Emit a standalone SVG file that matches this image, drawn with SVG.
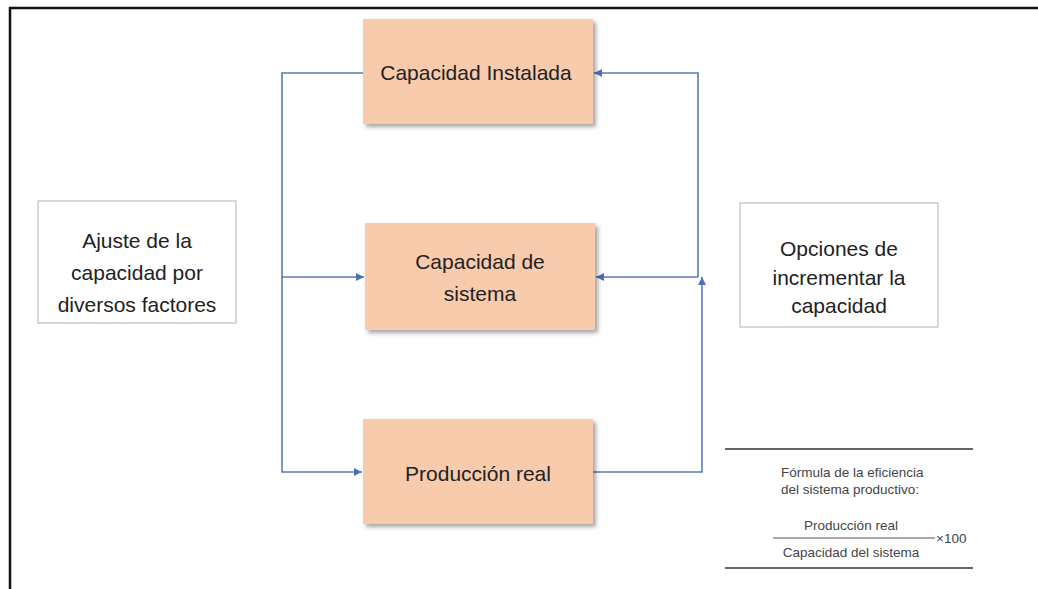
<svg xmlns="http://www.w3.org/2000/svg" width="1038" height="589" viewBox="0 0 1038 589">
<style>
.node{fill:#F8CBAD;filter:url(#sh)}
.lbl{font-family:"Liberation Sans","Open Sans",sans-serif;font-size:21px;fill:#222;text-anchor:middle}
.side{fill:#fff;stroke:#bfbfbf;stroke-width:1.2}
.conn{fill:none;stroke:#5b7bb5;stroke-width:1.6}
.f{font-family:"Liberation Sans",Arial,sans-serif;font-size:13.5px;fill:#444}
</style>
<defs>
<filter id="sh" x="-10%" y="-10%" width="130%" height="130%">
<feDropShadow dx="3" dy="3" stdDeviation="2" flood-color="#000" flood-opacity="0.35"/>
</filter>
<marker id="ar" viewBox="0 0 10 10" refX="10" refY="5" markerWidth="8" markerHeight="8" orient="auto" markerUnits="userSpaceOnUse">
<path d="M0,0 L10,5 L0,10 z" fill="#4a70b8"/>
</marker>
</defs>
<rect width="1038" height="589" fill="#fff"/>
<path d="M10,589 V8 H1038" fill="none" stroke="#111" stroke-width="2.5"/>

<g id="connectors">
<path class="conn" d="M363,73 H282 V472 H362" marker-end="url(#ar)"/>
<path class="conn" d="M282,277 H364" marker-end="url(#ar)"/>
<path class="conn" d="M593,472 H702 V277" marker-end="url(#ar)"/>
<path class="conn" d="M698,277 V73 H594" marker-end="url(#ar)"/>
<path class="conn" d="M698,277 H596" marker-end="url(#ar)"/>
</g>

<g id="capacidad-instalada">
<rect class="node" x="363" y="19" width="230" height="105"/>
<text class="lbl" x="476" y="80">Capacidad Instalada</text>
</g>
<g id="capacidad-sistema">
<rect class="node" x="365" y="223" width="230" height="107"/>
<text class="lbl" x="480" y="269">Capacidad de</text>
<text class="lbl" x="480" y="301">sistema</text>
</g>
<g id="produccion-real">
<rect class="node" x="363" y="419" width="230" height="105"/>
<text class="lbl" x="478" y="481">Producción real</text>
</g>
<g id="ajuste">
<rect class="side" x="38" y="201" width="198" height="122"/>
<text class="lbl" x="137" y="248">Ajuste de la</text>
<text class="lbl" x="137" y="280">capacidad por</text>
<text class="lbl" x="137" y="312">diversos factores</text>
</g>
<g id="opciones">
<rect class="side" x="740" y="203" width="198" height="124"/>
<text class="lbl" x="839" y="256">Opciones de</text>
<text class="lbl" x="839" y="285">incrementar la</text>
<text class="lbl" x="839" y="313">capacidad</text>
</g>
<g id="formula">
<line x1="725" y1="449" x2="973" y2="449" stroke="#666" stroke-width="2"/>
<line x1="725" y1="568" x2="973" y2="568" stroke="#666" stroke-width="2"/>
<text class="f" x="781" y="477">Fórmula de la eficiencia</text>
<text class="f" x="781" y="494">del sistema productivo:</text>
<text class="f" x="851" y="530" text-anchor="middle">Producción  real</text>
<line x1="773" y1="538" x2="935" y2="538" stroke="#555" stroke-width="1"/>
<text class="f" x="936" y="543">×100</text>
<text class="f" x="851" y="557" text-anchor="middle">Capacidad  del  sistema</text>
</g>
</svg>
